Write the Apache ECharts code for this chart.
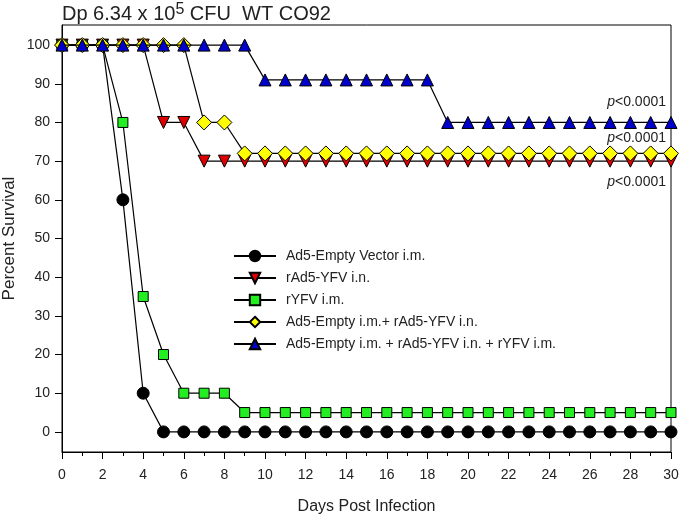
<!DOCTYPE html>
<html><head><meta charset="utf-8">
<script src="https://cdn.jsdelivr.net/npm/echarts@6/dist/echarts.min.js"></script>
<style>html,body{margin:0;padding:0;background:#fff}#c{width:680px;height:523px}</style>
</head><body><div id="c"></div>
<script>
const days = Array.from({length: 31}, (_, i) => i);
const seriesNames = [
  'Ad5-Empty Vector i.m.',
  'rAd5-YFV i.n.',
  'rYFV i.m.',
  'Ad5-Empty i.m.+ rAd5-YFV i.n.',
  'Ad5-Empty i.m. + rAd5-YFV i.n. + rYFV i.m.'
];
const emptyVector = [100,100,100,60,10,0,0,0,0,0,0,0,0,0,0,0,0,0,0,0,0,0,0,0,0,0,0,0,0,0,0];
const rAd5YFV     = [100,100,100,100,100,80,80,70,70,70,70,70,70,70,70,70,70,70,70,70,70,70,70,70,70,70,70,70,70,70,70];
const rYFV        = [100,100,100,80,35,20,10,10,10,5,5,5,5,5,5,5,5,5,5,5,5,5,5,5,5,5,5,5,5,5,5];
const emptyPlusYFV= [100,100,100,100,100,100,100,80,80,72,72,72,72,72,72,72,72,72,72,72,72,72,72,72,72,72,72,72,72,72,72];
const triple      = [100,100,100,100,100,100,100,100,100,100,91,91,91,91,91,91,91,91,91,80,80,80,80,80,80,80,80,80,80,80,80];
const yTicks = [0,10,20,30,40,50,60,70,80,90,100];
const pLabels = ['<0.0001','<0.0001','<0.0001'];
const pLabelY = [85.3, 76, 64.6];

const styles = [
  {symbol:'circle', size:12, color:'#000000', rotate:0},
  {symbol:'triangle', size:12, color:'#dd0000', rotate:180},
  {symbol:'rect', size:10, color:'#22ee22', rotate:0},
  {symbol:'diamond', size:15, color:'#ffff00', rotate:0},
  {symbol:'triangle', size:12, color:'#0000cc', rotate:0}
];
const values = [emptyVector, rAd5YFV, rYFV, emptyPlusYFV, triple];

const font = '"Liberation Sans", Arial, sans-serif';
const chart = echarts.init(document.getElementById('c'));
const option = {
  animation: false,
  textStyle: {fontFamily: font},
  title: {
    text: '{a|Dp 6.34 x 10}{s|5}{a| CFU  WT CO92}',
    left: 62, top: 2, padding: 0,
    textStyle: {fontWeight: 'normal', rich: {
      a: {fontSize: 20, fontFamily: font, fontWeight: 'normal', color: '#222', verticalAlign: 'bottom', lineHeight: 22},
      s: {fontSize: 16, fontFamily: font, fontWeight: 'normal', color: '#222', verticalAlign: 'top', lineHeight: 16}
    }}
  },
  grid: {left: 62, right: 9, top: 25, bottom: 71, show: true, borderColor: '#000', borderWidth: 1, outerBoundsMode: 'none', containLabel: false},
  legend: {
    orient: 'vertical', left: 228, top: 244, itemWidth: 42, itemHeight: 13, itemGap: 8,
    textStyle: {fontSize: 14, color: '#222', fontFamily: font, padding: [0,0,0,5]},
    data: seriesNames
  },
  xAxis: {
    type: 'value', min: 0, max: 30, interval: 2,
    name: 'Days Post Infection', nameLocation: 'middle', nameGap: 47,
    nameTextStyle: {fontSize: 16, color: '#222', fontFamily: font},
    axisLine: {onZero: false, lineStyle: {color: '#000', width: 1}},
    axisTick: {show: true, inside: false, length: 7, lineStyle: {color: '#000'}},
    minorTick: {show: true, splitNumber: 2, length: 4, lineStyle: {color: '#000'}},
    axisLabel: {fontSize: 14, color: '#222', margin: 16, fontFamily: font},
    splitLine: {show: false}
  },
  yAxis: {
    type: 'value', min: -5.2, max: 105.2,
    name: 'Percent Survival', nameLocation: 'middle', nameGap: 44, nameMoveOverlap: false,
    nameTextStyle: {fontSize: 17, color: '#222', fontFamily: font},
    axisLine: {show: true, onZero: false, lineStyle: {color: '#000', width: 1}},
    axisTick: {show: true, length: 7, customValues: yTicks, lineStyle: {color: '#000'}},
    axisLabel: {fontSize: 14, color: '#222', margin: 12, customValues: yTicks, fontFamily: font},
    splitLine: {show: false}
  },
  series: values.map((v, i) => ({
    name: seriesNames[i], type: 'line',
    data: days.map((d, k) => [d, v[k]]),
    symbol: styles[i].symbol, symbolSize: styles[i].size, symbolRotate: styles[i].rotate,
    showAllSymbol: true, clip: false,
    lineStyle: {color: '#000', width: 1.2},
    itemStyle: {color: styles[i].color, borderColor: '#000', borderWidth: 1},
    z: 2 + i
  }))
};
chart.setOption(option);
const graphics = pLabelY.map((y, i) => {
  const pt = chart.convertToPixel({gridIndex: 0}, [30, y]);
  return {
    type: 'text', x: pt[0] - 5, y: pt[1], z: 20,
    style: {
      text: '{p|p}{t|' + pLabels[i] + '}', align: 'right', verticalAlign: 'middle',
      rich: {
        p: {fontStyle: 'italic', fontSize: 14, fontFamily: font, fill: '#222'},
        t: {fontSize: 14, fontFamily: font, fill: '#222'}
      }
    }
  };
});
chart.setOption({graphic: graphics});
</script></body></html>
